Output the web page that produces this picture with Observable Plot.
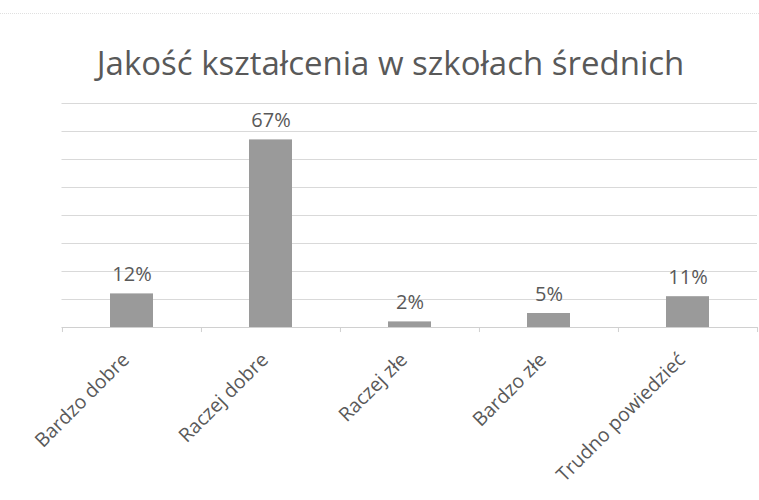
<!DOCTYPE html>
<html>
<head>
<meta charset="utf-8">
<script src="https://cdn.jsdelivr.net/npm/d3@7"></script>
<script src="https://cdn.jsdelivr.net/npm/@observablehq/plot@0.6"></script>
<style>
  body { margin: 0; background: #fff; }
  #wrap { position: relative; width: 759px; height: 500px; }
  #wrap svg { display: block; }
  #border { position: absolute; left: 0; top: 13px; width: 759px; border-top: 1px dotted #e0e0e0; }
</style>
</head>
<body>
<div id="wrap"><div id="border"></div></div>
<script>
const title = "Jakość kształcenia w szkołach średnich";
const categories = ["Bardzo dobre", "Raczej dobre", "Raczej złe", "Bardzo złe", "Trudno powiedzieć"];
const values = [12, 67, 2, 5, 11];
const gridTicks = [0, 10, 20, 30, 40, 50, 60, 70, 80];

const data = categories.map((c, i) => ({category: c, value: values[i]}));

const W = 759, H = 500;
const mL = 61.5, mR = 2, mT = 103, mB = 173;
const step = (W - mL - mR) / categories.length;
const font = "'Open Sans', sans-serif";
const textColor = "#595959";

const chart = Plot.plot({
  width: W,
  height: H,
  marginLeft: mL,
  marginRight: mR,
  marginTop: mT,
  marginBottom: mB,
  style: {fontFamily: font, background: "transparent"},
  x: {domain: categories, paddingInner: 0.69, paddingOuter: 0.345, axis: null},
  y: {domain: [0, 80], axis: null},
  marks: [
    Plot.ruleY(gridTicks.filter(t => t > 0), {stroke: "#d9d9d9", strokeWidth: 1}),
    Plot.barY(data, {x: "category", y: "value", fill: "#9a9a9a"}),
    Plot.ruleY([0], {stroke: "#d0d0d0", strokeWidth: 1}),
    Plot.ruleX(categories, {x: d => d, dx: -step / 2, y1: 0, y2: -1.8, stroke: "#d0d0d0"}),
    Plot.ruleX([categories[categories.length - 1]], {x: d => d, dx: step / 2, y1: 0, y2: -1.8, stroke: "#d0d0d0"}),
    Plot.text(data, {x: "category", y: "value", text: d => d.value + "%", dy: -19, fontSize: 20, fill: textColor}),
    Plot.text(data, {x: "category", y: 0, text: "category", rotate: -45, textAnchor: "end", dy: 29, dx: -6, fontSize: 19.5, fill: textColor}),
    Plot.text([title], {text: d => d, frameAnchor: "top", dy: -52, dx: 390 - (mL + (W - mL - mR) / 2), fontSize: 33, fill: textColor})
  ]
});
document.getElementById("wrap").appendChild(chart);
</script>
</body>
</html>
